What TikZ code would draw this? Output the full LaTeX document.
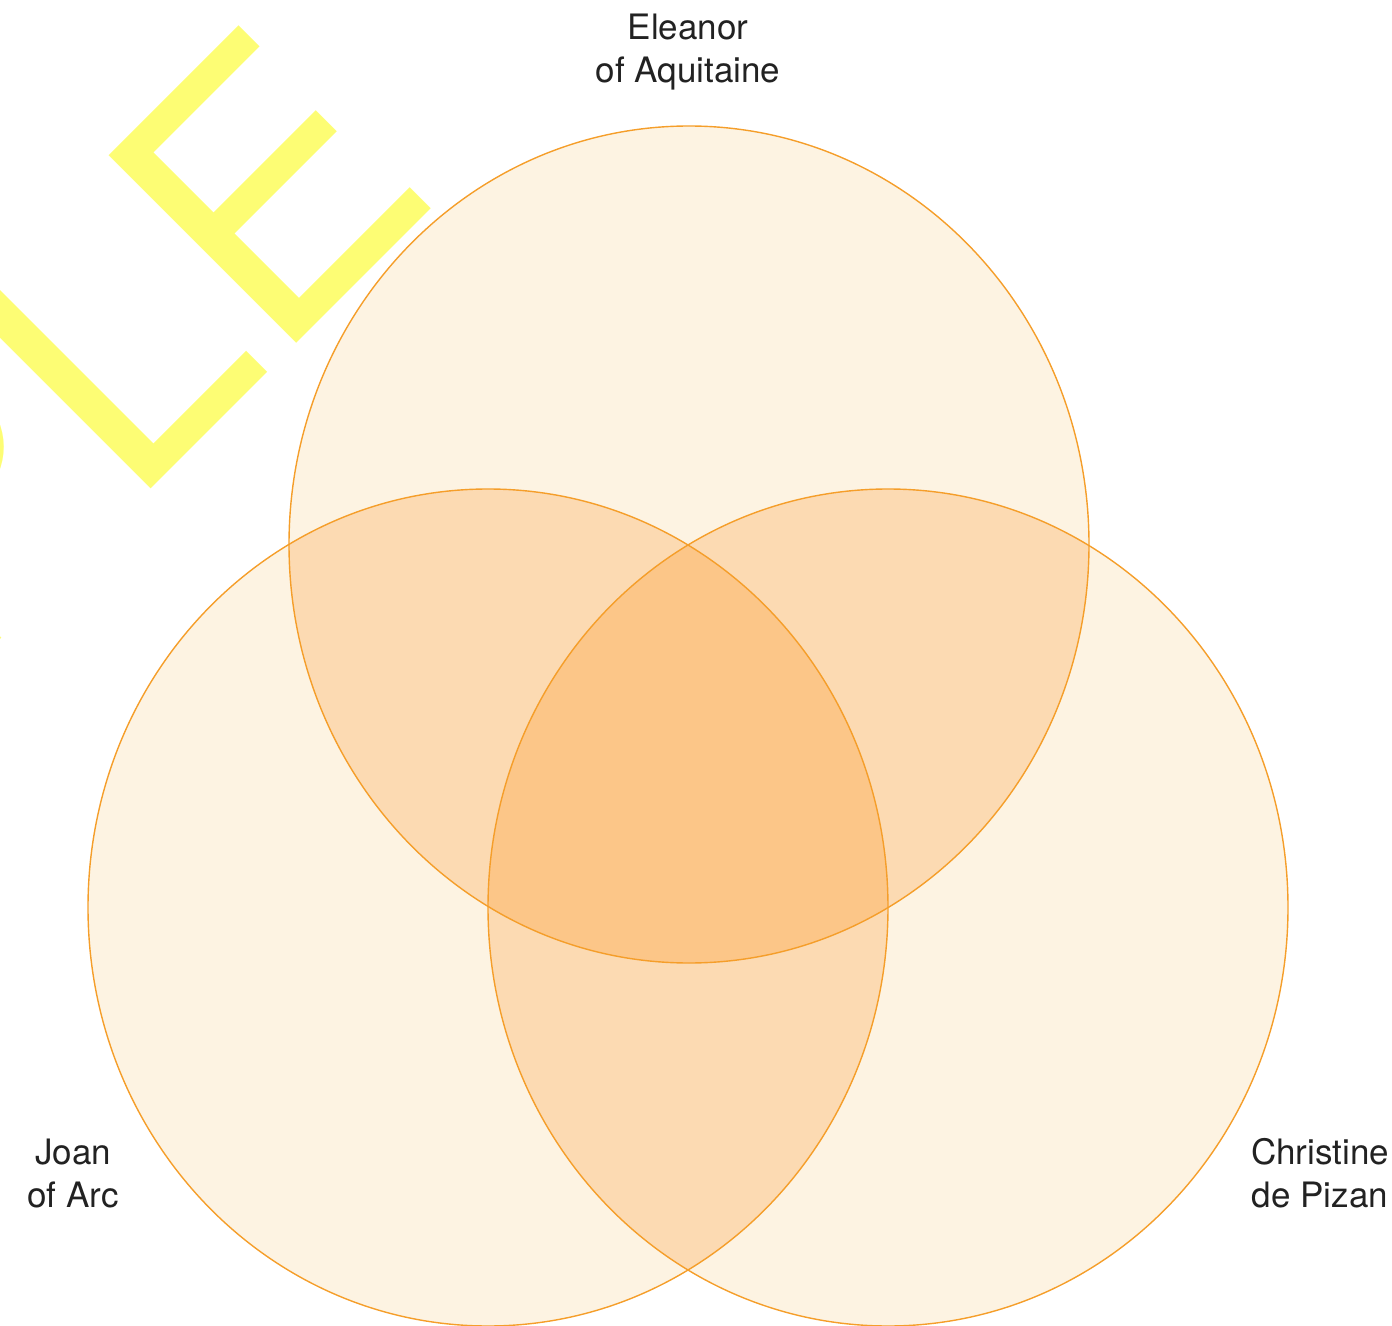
\documentclass[tikz,border=0pt]{standalone}
\usepackage{fontspec}
\setmainfont{TeX Gyre Heros}
\usetikzlibrary{positioning}
\definecolor{onefill}{HTML}{FDF3E2}
\definecolor{twofill}{HTML}{FCDAB2}
\definecolor{threefill}{HTML}{FCC688}
\definecolor{rimorange}{HTML}{F59E2A}
\definecolor{labelgray}{HTML}{222222}
\definecolor{markyellow}{HTML}{FDFD74}

\begin{document}
\begin{tikzpicture}[x=0.5pt,y=-0.5pt,
  set/.style={x radius=400,y radius=418.5},
  rim/.style={draw=rimorange,line width=0.7pt},
  lbl/.style={font=\fontsize{17.5}{21.5}\selectfont,text=labelgray,align=center,inner sep=0pt}]
\useasboundingbox (0,0) rectangle (1392,1326);
\clip (0,0) rectangle (1392,1326);
% watermark
\node[font=\fontsize{182}{182}\selectfont,text=markyellow,rotate=45,anchor=base east,inner sep=0pt] (mark) at (446,194) {SAMP\kern3pt LE};
% set centres
\coordinate (eleanor) at (689,544.5);
\coordinate (joan) at (488,907.5);
\coordinate (christine) at (888,907.5);
\fill[onefill] (eleanor) ellipse[set];
\fill[onefill] (joan) ellipse[set];
\fill[onefill] (christine) ellipse[set];
\begin{scope}
  \clip (eleanor) ellipse[set];
  \fill[twofill] (joan) ellipse[set];
  \fill[twofill] (christine) ellipse[set];
\end{scope}
\begin{scope}
  \clip (joan) ellipse[set];
  \fill[twofill] (christine) ellipse[set];
\end{scope}
\begin{scope}
  \clip (eleanor) ellipse[set];
  \clip (joan) ellipse[set];
  \fill[threefill] (christine) ellipse[set];
\end{scope}
\draw[rim] (eleanor) ellipse[set];
\draw[rim] (joan) ellipse[set];
\draw[rim] (christine) ellipse[set];
% labels
\node[lbl] (leleanor) at (688,52) {Eleanor\\of Aquitaine};
\node[lbl] (ljoan) at (73,1173) {Joan\\of Arc};
\node[lbl] (lchristine) at (1320,1173) {Christine\\de Pizan};
\end{tikzpicture}
\end{document}
